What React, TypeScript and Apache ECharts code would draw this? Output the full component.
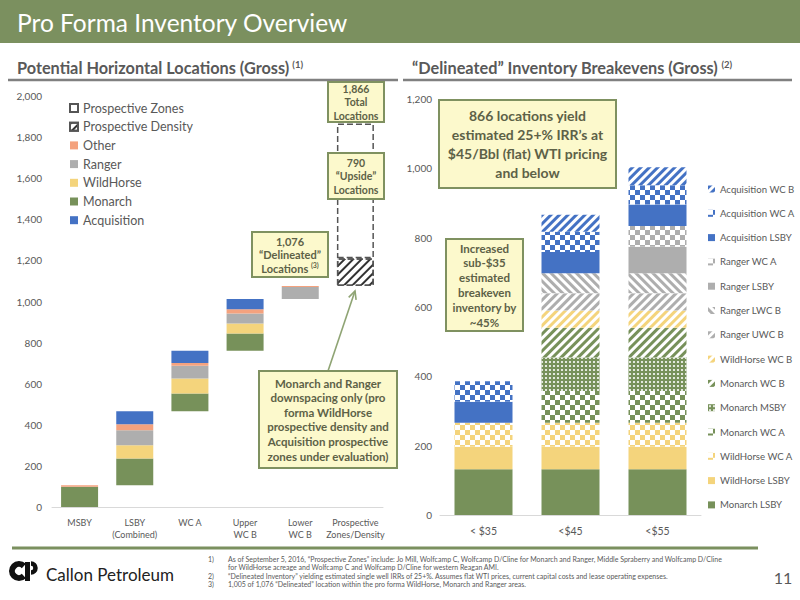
import React, { useEffect, useRef } from "react";
import * as echarts from "echarts";

// ---------- Left chart data (waterfall, gross locations) ----------
const leftCategories = ["MSBY", "LSBY\n(Combined)", "WC A", "Upper\nWC B", "Lower\nWC B", "Prospective\nZones/Density"];
const leftMonarch = [98, 130, 86, 84, null, null];
const leftWildHorse = [null, 65, 73, 49, null, null];
const leftRanger = [null, 73, 62, 48, 58, null];
const leftOther = [8, 29, 14, 21, 6, null];
const leftAcquisition = [null, 63, 59, 50, null, null];
const leftProspectiveDensity = [null, null, null, null, null, 134];
const leftProspectiveZones = [null, null, null, null, null, 656];
const leftYMax = 2000;
const leftYInterval = 200;

// ---------- Right chart data (breakevens) ----------
const rightCategories = ["< $35", "<$45", "<$55"];
const monarchLSBY = [132, 132, 132];
const wildHorseLSBY = [65, 65, 65];
const wildHorseWCA = [69, 69, 69];
const monarchWCA = [null, 92, 92];
const monarchMSBY = [null, 96, 96];
const monarchWCB = [null, 86, 86];
const wildHorseWCB = [null, 50, 50];
const rangerUWCB = [null, 50, 50];
const rangerLWCB = [null, 57, 57];
const rangerLSBY = [null, null, 77];
const rangerWCA = [null, null, 60];
const acquisitionLSBY = [61, 62, 62];
const acquisitionWCA = [59, 58, 55];
const acquisitionWCB = [null, 49, 52];
const rightYMax = 1200;
const rightYInterval = 200;

// ---------- styles ----------
const FONT = "Lato, 'Open Sans', sans-serif";
const GRAY_TEXT = "#595959";
const GREEN = "#77915a";
const YELLOW = "#f4d47c";
const GRAY = "#aeaeae";
const ORANGE = "#f4a27e";
const BLUE = "#4472c4";
const HEADER_GREEN = "#7b905f";
const BOX_FILL = "#fcf9cc";
const BOX_STROKE = "#7f9160";
const BOX_TEXT = "#5d6147";

const stripes = (color: string, dir: number = 1) => ({
  symbol: "rect",
  symbolSize: 1,
  color,
  dashArrayX: [1, 0],
  dashArrayY: [2.4, 3],
  rotation: (dir * -Math.PI) / 4,
});
const checker = (color: string) => ({
  symbol: "rect",
  symbolSize: 1,
  color,
  dashArrayX: [
    [5, 5],
    [0, 5, 5, 0],
  ],
  dashArrayY: [5, 0],
});
const dots = {
  symbol: "circle",
  symbolSize: 0.55,
  color: "rgba(255,255,255,0.9)",
  dashArrayX: [[4, 0]],
  dashArrayY: [4, 0],
};

function box(x: number, y: number, w: number, h: number, text: string, fontSize: number, lineHeight: number, rich?: any) {
  const t: any = {
    type: "text",
    x: x + w / 2,
    y: y + h / 2,
    z: 101,
    style: {
      text,
      fill: BOX_TEXT,
      fontFamily: FONT,
      fontSize,
      fontWeight: "bold",
      lineHeight,
      align: "center",
      verticalAlign: "middle",
    },
  };
  if (rich) t.style.rich = rich;
  return [
    {
      type: "rect",
      z: 100,
      shape: { x, y, width: w, height: h },
      style: { fill: BOX_FILL, stroke: BOX_STROKE, lineWidth: 2 },
    },
    t,
  ];
}

function arrow(x1: number, y1: number, x2: number, y2: number) {
  const ang = Math.atan2(y2 - y1, x2 - x1);
  const L = 9;
  const a1 = ang + Math.PI - 0.45;
  const a2 = ang + Math.PI + 0.45;
  return [
    { type: "line", z: 99, shape: { x1, y1, x2, y2 }, style: { stroke: "#8fa474", lineWidth: 1.6 } },
    {
      type: "polyline",
      z: 99,
      shape: {
        points: [
          [x2 + L * Math.cos(a1), y2 + L * Math.sin(a1)],
          [x2, y2],
          [x2 + L * Math.cos(a2), y2 + L * Math.sin(a2)],
        ],
      },
      style: { stroke: "#8fa474", lineWidth: 1.6, fill: null },
    },
  ];
}

export default function App() {
  const ref = useRef<HTMLDivElement>(null);
  useEffect(() => {
    if (!ref.current) return;
    const chart = echarts.init(ref.current, undefined, { renderer: "svg" });

    // waterfall base
    const leftStacks = [leftMonarch, leftWildHorse, leftRanger, leftOther, leftAcquisition, leftProspectiveDensity, leftProspectiveZones];
    const totals = leftCategories.map((_, i) => leftStacks.reduce((s, arr) => s + (arr[i] || 0), 0));
    const base: number[] = [];
    let run = 0;
    totals.forEach((t) => {
      base.push(run);
      run += t;
    });

    const leftBar = (name: string, data: any[], itemStyle: any) => ({
      name,
      type: "bar",
      stack: "L",
      xAxisIndex: 0,
      yAxisIndex: 0,
      barWidth: 37,
      data,
      itemStyle,
    });
    const rightBar = (name: string, data: any[], itemStyle: any) => ({
      name,
      type: "bar",
      stack: "R",
      xAxisIndex: 1,
      yAxisIndex: 1,
      barWidth: 58,
      data,
      itemStyle,
    });

    const rightSeries = [
      rightBar("Monarch LSBY", monarchLSBY, { color: GREEN }),
      rightBar("WildHorse LSBY", wildHorseLSBY, { color: YELLOW }),
      rightBar("WildHorse WC A", wildHorseWCA, { color: "#fff", decal: checker(YELLOW) }),
      rightBar("Monarch WC A", monarchWCA, { color: "#fff", decal: checker(GREEN) }),
      rightBar("Monarch MSBY", monarchMSBY, { color: GREEN, decal: dots }),
      rightBar("Monarch WC B", monarchWCB, { color: "#fff", decal: stripes(GREEN) }),
      rightBar("WildHorse WC B", wildHorseWCB, { color: "#fff", decal: stripes(YELLOW) }),
      rightBar("Ranger UWC B", rangerUWCB, { color: "#fff", decal: stripes(GRAY) }),
      rightBar("Ranger LWC B", rangerLWCB, { color: "#fff", decal: stripes(GRAY, -1) }),
      rightBar("Ranger LSBY", rangerLSBY, { color: GRAY }),
      rightBar("Ranger WC A", rangerWCA, { color: "#fff", decal: checker(GRAY) }),
      rightBar("Acquisition LSBY", acquisitionLSBY, { color: BLUE }),
      rightBar("Acquisition WC A", acquisitionWCA, { color: "#fff", decal: checker(BLUE) }),
      rightBar("Acquisition WC B", acquisitionWCB, { color: "#fff", decal: stripes(BLUE) }),
    ];

    const subRich = {
      a: { fontFamily: FONT, fontSize: 16.3, fontWeight: "bold", fill: GRAY_TEXT, verticalAlign: "bottom" },
      s: { fontFamily: FONT, fontSize: 9.5, fontWeight: "bold", fill: GRAY_TEXT, verticalAlign: "top" },
    };

    const graphic: any[] = [
      { type: "rect", shape: { x: 0, y: 0, width: 800, height: 43 }, style: { fill: HEADER_GREEN } },
      {
        type: "text",
        x: 17,
        y: 22,
        style: { text: "Pro Forma Inventory Overview", fill: "#fff", fontFamily: FONT, fontSize: 24.5, verticalAlign: "middle" },
      },
      {
        type: "text",
        x: 17,
        y: 67,
        style: {
          text: "{a|Potential Horizontal Locations (Gross)} {s|(1)}",
          fontFamily: FONT,
          verticalAlign: "middle",
          rich: subRich,
        },
      },
      {
        type: "text",
        x: 412,
        y: 67,
        style: {
          text: "{a|“Delineated” Inventory Breakevens (Gross)} {s|(2)}",
          fontFamily: FONT,
          verticalAlign: "middle",
          rich: subRich,
        },
      },
      { type: "line", shape: { x1: 8, y1: 80, x2: 398, y2: 80 }, style: { stroke: "#808080", lineWidth: 2.5 } },
      { type: "line", shape: { x1: 403, y1: 80, x2: 792, y2: 80 }, style: { stroke: "#808080", lineWidth: 2.5 } },
      { type: "line", shape: { x1: 12, y1: 548, x2: 758, y2: 548 }, style: { stroke: HEADER_GREEN, lineWidth: 3 } },
      ...box(328, 82, 56, 40, "1,866\nTotal\nLocations", 10.5, 13.5),
      ...box(328, 153, 56, 46, "790\n“Upside”\nLocations", 10.5, 13.5),
      ...box(252, 232, 76, 45, "{b|1,076}\n{b|“Delineated”}\n{b|Locations }{s|(3)}", 11, 13.5, {
        b: { fontFamily: FONT, fontSize: 11, fontWeight: "bold", fill: BOX_TEXT, lineHeight: 13.5 },
        s: { fontFamily: FONT, fontSize: 7, fontWeight: "bold", fill: BOX_TEXT, verticalAlign: "top", lineHeight: 13.5 },
      }),
      ...arrow(328, 371, 355, 291),
      ...box(
        259,
        371,
        138,
        97,
        "Monarch and Ranger\ndownspacing only (pro\nforma WildHorse\nprospective density and\nAcquisition prospective\nzones under evaluation)",
        11.5,
        14.6
      ),
      ...box(439, 100, 177, 88, "866 locations yield\nestimated 25+% IRR’s at\n$45/Bbl (flat) WTI pricing\nand below", 14, 18.7),
      ...box(446, 239, 77, 92, "Increased\nsub-$35\nestimated\nbreakeven\ninventory by\n~45%", 11.5, 14.8),
      // logo
      {
        type: "arc",
        shape: { cx: 19, cy: 571, r: 7, startAngle: 0.8, endAngle: Math.PI * 2 - 0.8 },
        style: { stroke: "#111", lineWidth: 6, fill: null },
      },
      { type: "rect", shape: { x: 25, y: 562, width: 5, height: 19 }, style: { fill: "#111" } },
      {
        type: "arc",
        shape: { cx: 31, cy: 568, r: 4.5, startAngle: -Math.PI / 2, endAngle: Math.PI / 2 },
        style: { stroke: "#111", lineWidth: 4.5, fill: null },
      },
      {
        type: "text",
        x: 46,
        y: 574,
        style: { text: "Callon Petroleum", fill: "#222", fontFamily: FONT, fontSize: 17, verticalAlign: "middle" },
      },
      // footnotes
      ...[
        ["1)", "As of September 5, 2016, “Prospective Zones” include: Jo Mill, Wolfcamp C, Wolfcamp D/Cline for Monarch and Ranger, Middle Spraberry and Wolfcamp D/Cline", 559],
        ["", "for WildHorse acreage and Wolfcamp C and Wolfcamp D/Cline for western Reagan AMI.", 567],
        ["2)", "“Delineated Inventory” yielding estimated single well IRRs of 25+%. Assumes flat WTI prices, current capital costs and lease operating expenses.", 575.5],
        ["3)", "1,005 of 1,076 “Delineated” location within the pro forma WildHorse, Monarch and Ranger areas.", 583.5],
      ].flatMap(([n, t, y]) => [
        { type: "text", x: 208, y: y as number, style: { text: n as string, fill: GRAY_TEXT, fontFamily: FONT, fontSize: 7, verticalAlign: "middle" } },
        { type: "text", x: 228, y: y as number, style: { text: t as string, fill: GRAY_TEXT, fontFamily: FONT, fontSize: 7, verticalAlign: "middle" } },
      ]),
      {
        type: "text",
        x: 783,
        y: 577,
        style: { text: "11", fill: GRAY_TEXT, fontFamily: FONT, fontSize: 16, align: "center", verticalAlign: "middle" },
      },
    ];

    const axisLabelFmt = (v: number) => v.toLocaleString("en-US");

    chart.setOption({
      animation: false,
      backgroundColor: "#fff",
      textStyle: { fontFamily: FONT },
      grid: [
        { left: 52, right: 417, top: 96, bottom: 93 },
        { left: 440, right: 99, top: 99, bottom: 85 },
      ],
      xAxis: [
        {
          type: "category",
          gridIndex: 0,
          data: leftCategories,
          axisTick: { show: false },
          axisLine: { lineStyle: { color: "#d9d9d9" } },
          axisLabel: { color: GRAY_TEXT, fontSize: 9, margin: 9, lineHeight: 12, interval: 0 },
        },
        {
          type: "category",
          gridIndex: 1,
          data: rightCategories,
          axisTick: { show: false },
          axisLine: { lineStyle: { color: "#d9d9d9" } },
          axisLabel: { color: GRAY_TEXT, fontSize: 10.5, margin: 10, interval: 0 },
        },
      ],
      yAxis: [
        {
          type: "value",
          gridIndex: 0,
          min: 0,
          max: leftYMax,
          interval: leftYInterval,
          splitLine: { show: false },
          axisLine: { show: false },
          axisTick: { show: false },
          axisLabel: { color: GRAY_TEXT, fontSize: 10, margin: 10, formatter: axisLabelFmt },
        },
        {
          type: "value",
          gridIndex: 1,
          min: 0,
          max: rightYMax,
          interval: rightYInterval,
          splitLine: { show: false },
          axisLine: { show: false },
          axisTick: { show: false },
          axisLabel: { color: GRAY_TEXT, fontSize: 10, margin: 8, formatter: axisLabelFmt },
        },
      ],
      legend: [
        {
          orient: "vertical",
          left: 64,
          top: 96,
          selectedMode: false,
          itemWidth: 8,
          itemHeight: 8,
          itemGap: 4.7,
          icon: "rect",
          textStyle: { color: GRAY_TEXT, fontSize: 12.5, lineHeight: 14, fontFamily: FONT },
          data: ["Prospective Zones", "Prospective Density", "Other", "Ranger", "WildHorse", "Monarch", "Acquisition"],
        },
        {
          orient: "vertical",
          left: 703,
          top: 177,
          selectedMode: false,
          itemWidth: 7,
          itemHeight: 7,
          itemGap: 10.3,
          icon: "rect",
          textStyle: { color: GRAY_TEXT, fontSize: 9.6, lineHeight: 14, fontFamily: FONT },
          data: rightSeries.map((s) => s.name).reverse(),
        },
      ],
      series: [
        {
          name: "base",
          type: "bar",
          stack: "L",
          xAxisIndex: 0,
          yAxisIndex: 0,
          barWidth: 37,
          silent: true,
          data: base,
          itemStyle: { color: "rgba(0,0,0,0)" },
        },
        leftBar("Monarch", leftMonarch, { color: GREEN }),
        leftBar("WildHorse", leftWildHorse, { color: YELLOW }),
        leftBar("Ranger", leftRanger, { color: GRAY }),
        leftBar("Other", leftOther, { color: ORANGE }),
        leftBar("Acquisition", leftAcquisition, { color: BLUE }),
        leftBar("Prospective Density", leftProspectiveDensity, {
          color: "#fff",
          borderColor: "#555",
          borderType: "dashed",
          borderWidth: 1.5,
          decal: { ...stripes("#333"), dashArrayY: [2, 3.5] },
        }),
        leftBar("Prospective Zones", leftProspectiveZones, {
          color: "#fff",
          borderColor: "#555",
          borderType: "dashed",
          borderWidth: 1.5,
        }),
        ...rightSeries,
      ],
      graphic,
    });
    return () => chart.dispose();
  }, []);

  return <div ref={ref} style={{ position: "fixed", left: 0, top: 0, width: 800, height: 600, background: "#fff" }} />;
}
